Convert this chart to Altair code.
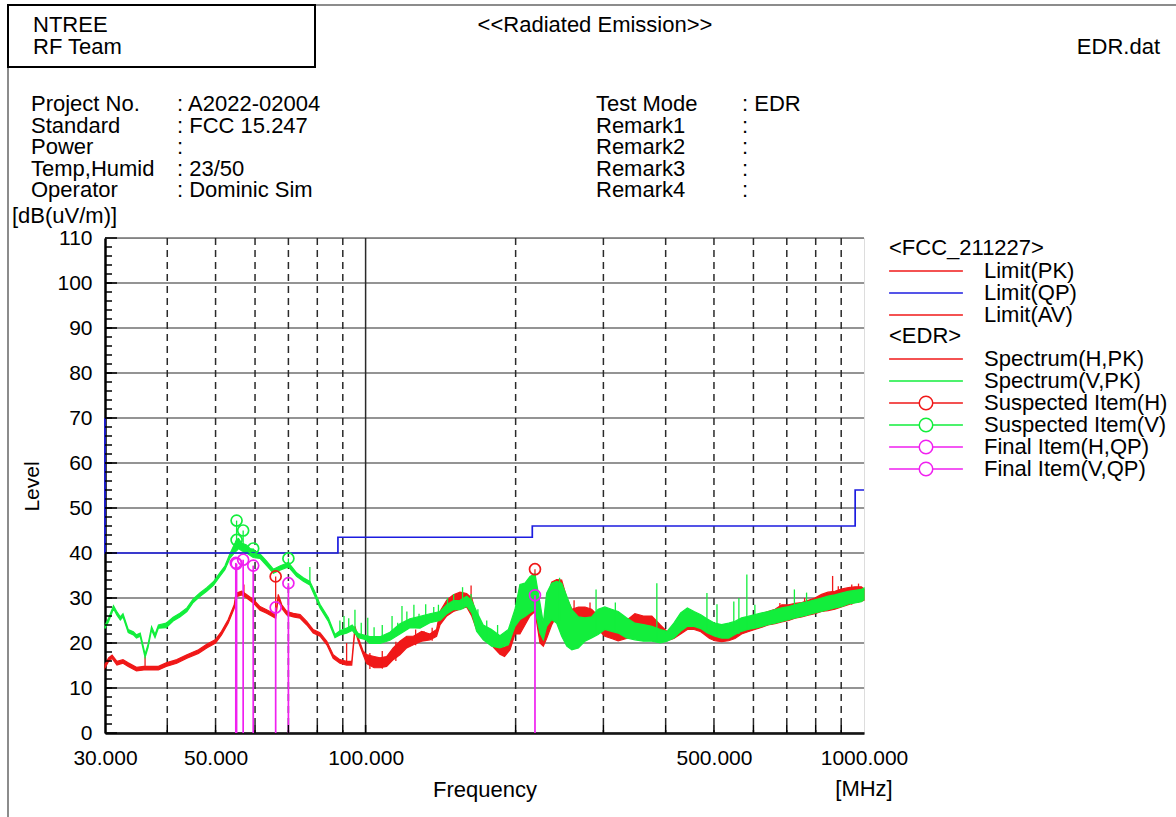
import altair as alt
import pandas as pd

FONT = "Liberation Sans"
RED = "#f01818"
GREEN = "#12ee3c"
BLUE = "#1c1ce0"
MAGENTA = "#f020f0"
GRID = "#2a2a2a"

W, H = 759, 495

# ---------------- data ----------------
# Spectrum(V,PK) (green): frequency [MHz], lower / upper envelope [dB(uV/m)]
g_f = [30.0, 30.5, 31.2, 31.7, 32.2, 32.6, 33.4, 34.2, 34.7, 35.3, 36.1, 36.6, 37.2, 37.8, 38.4,
       39.8, 41.1, 42.4, 43.8, 45.1, 46.5, 48.0, 49.5, 51.0, 52.2, 53.4, 54.7, 55.1, 55.6, 56.4,
       57.7, 58.6, 59.5, 61.4, 63.3, 65.3, 67.3, 70.0, 72.7, 75.0, 77.3, 79.2, 81.0, 84.2, 86.8,
       88.8, 91.6, 94.0, 96.7, 99.7, 102, 106.9, 111.9, 117.2, 122.7, 128.6, 134.6, 141, 145.5, 150,
       154.7, 159.5, 163.3, 167, 172.2, 179, 186, 193.4, 199.4, 204, 208.8, 213.7, 218.7, 223.8, 227.3,
       230.8, 236.2, 241.8, 247.4, 253.3, 259.3, 267.3, 275.6, 284.1, 292.8, 302, 311.5, 321.2, 333.8, 347,
       360.8, 375.2, 390.3, 402.7, 415.4, 428.6, 442.2, 456.2, 470.6, 484, 502, 518, 535, 551, 568,
       585, 604, 624, 642, 663, 684, 706, 727, 750, 773, 797, 822, 847, 874, 901,
       930, 959, 988, 1000]
g_lo = [23.2, 24.8, 27.6, 26.2, 25.1, 25.8, 22.3, 21.8, 21.1, 21.5, 16.8, 19.0, 22.9, 21.2, 23.3,
        23.4, 24.9, 25.8, 27.0, 29.0, 30.3, 31.5, 32.8, 34.8, 36.3, 38.8, 40.2, 40.5, 41.0, 40.5,
        40.0, 39.5, 39.0, 38.8, 37.2, 35.5, 36.2, 36.9, 34.8, 33.7, 32.9, 30.3, 27.8, 24.8, 21.2,
        21.8, 22.2, 22.8, 21.2, 20.8, 19.9, 19.9, 20.6, 22.0, 23.4, 23.3, 24.5, 25.0, 26.5, 27.4,
        27.4, 28.2, 26.7, 22.6, 20.7, 19.3, 18.9, 19.6, 23.7, 25.2, 25.9, 26.7, 27.4, 22.2, 20.7,
        23.7, 25.2, 24.4, 21.5, 19.3, 18.5, 18.9, 20.4, 21.1, 21.9, 23.0, 22.6, 22.2, 21.1, 20.7,
        20.4, 20.4, 20.0, 20.4, 21.1, 22.6, 23.7, 23.7, 23.2, 22.3, 21.5, 21.1, 21.1, 21.9, 22.6,
        23.0, 23.3, 23.7, 24.1, 24.4, 24.8, 25.2, 25.6, 25.9, 26.3, 26.7, 27.0, 27.4, 27.8, 28.1,
        28.7, 28.9, 29.2, 29.6]
g_hi = [23.9, 25.5, 28.3, 26.9, 25.8, 26.5, 23.0, 22.5, 21.8, 22.2, 17.5, 19.7, 23.6, 21.9, 24.0,
        24.4, 25.7, 26.6, 27.8, 29.8, 31.1, 32.3, 33.6, 35.6, 37.1, 39.8, 42.2, 43.0, 43.2, 42.2,
        41.8, 41.0, 40.8, 39.8, 38.2, 36.4, 37.1, 37.9, 35.6, 34.5, 33.7, 31.2, 28.6, 25.6, 21.9,
        22.7, 23.3, 24.0, 22.1, 21.7, 21.4, 21.4, 22.4, 24.3, 25.4, 25.9, 26.5, 27.0, 28.5, 29.4,
        29.5, 30.4, 29.4, 27.0, 24.0, 23.0, 21.6, 23.0, 27.5, 33.0, 33.3, 34.8, 35.4, 28.9, 24.4,
        31.1, 33.3, 33.7, 33.3, 30.4, 27.4, 25.8, 25.6, 25.8, 27.5, 28.0, 27.5, 27.0, 25.6, 24.4,
        24.1, 23.7, 23.0, 22.6, 24.4, 26.7, 27.8, 27.0, 26.3, 25.4, 24.4, 24.1, 24.4, 24.8, 25.6,
        25.9, 26.3, 26.7, 27.0, 27.4, 27.8, 28.1, 28.5, 28.9, 29.2, 29.6, 30.0, 30.4, 30.7, 31.1,
        31.5, 31.7, 31.9, 32.2]

# Spectrum(H,PK) (red)
r_f = [30.0, 30.5, 31.0, 31.7, 32.6, 33.4, 34.7, 35.9, 36.3, 38.4, 39.8, 41.8, 43.8, 46.2, 48.0,
       50.0, 51.4, 53.0, 54.5, 54.9, 55.1, 56.4, 57.7, 59.5, 61.4, 63.3, 65.3, 66.0, 66.8, 67.9,
       69.5, 71.6, 73.9, 76.2, 78.5, 81.0, 83.6, 86.1, 88.8, 91.6, 93.8, 95.2, 96.7, 98.9, 100.5,
       104, 106.9, 110.2, 113.6, 117.2, 120.9, 124.7, 129.6, 134.6, 138.8, 141, 145.5, 150, 154.7, 159.5,
       163.3, 167, 172.2, 179, 186, 190, 194.9, 199.4, 204, 208.8, 213.7, 218.7, 223.8, 227.3, 230.8,
       236.2, 241.8, 247.4, 253.3, 259.3, 267.3, 275.6, 284.1, 292.8, 302, 311.5, 321.2, 333.8, 347, 360.8,
       375.2, 390.3, 402.7, 415.4, 428.6, 442.2, 456.2, 470.6, 490, 502, 518, 535, 551, 568, 585,
       604, 624, 642, 663, 684, 706, 727, 750, 773, 797, 822, 847, 874, 901, 930,
       959, 988, 1000]
r_lo = [14.5, 15.9, 16.6, 15.1, 15.5, 14.8, 13.8, 14.0, 14.0, 14.0, 14.8, 15.5, 16.6, 17.7, 18.9,
        20.0, 21.8, 24.4, 27.7, 30.0, 30.3, 30.7, 30.0, 28.9, 27.3, 26.6, 25.8, 25.5, 30.0, 27.7,
        26.2, 25.8, 25.5, 24.0, 22.2, 21.5, 19.6, 16.6, 15.5, 15.1, 15.1, 22.9, 20.3, 17.4, 15.4,
        14.5, 14.5, 14.8, 16.3, 17.4, 18.9, 19.6, 20.4, 20.7, 21.5, 24.0, 26.0, 27.0, 27.5, 28.0,
        26.0, 23.0, 21.0, 19.5, 17.5, 17.0, 18.5, 22.0, 22.0, 24.0, 26.0, 27.0, 20.0, 19.3, 21.0,
        24.0, 26.0, 25.0, 24.0, 23.5, 23.0, 24.0, 24.0, 23.0, 21.5, 21.0, 20.5, 21.0, 21.5, 22.0,
        21.0, 20.5, 20.5, 21.0, 22.0, 23.0, 23.0, 22.5, 21.0, 20.5, 20.3, 20.5, 21.0, 22.0, 22.5,
        23.0, 23.5, 24.0, 24.3, 24.7, 25.0, 25.5, 25.8, 26.2, 26.5, 27.0, 27.2, 27.5, 28.0, 28.5,
        29.0, 29.3, 29.5]
r_hi = [15.2, 16.7, 17.3, 15.9, 16.3, 15.6, 14.6, 14.8, 14.8, 14.8, 15.6, 16.3, 17.4, 18.5, 19.7,
        20.8, 22.6, 25.2, 28.5, 30.8, 31.1, 31.5, 30.8, 29.7, 28.1, 27.4, 26.6, 26.3, 30.8, 28.5,
        27.0, 26.6, 26.3, 24.8, 23.0, 22.3, 20.4, 17.4, 16.3, 15.9, 15.9, 23.7, 21.1, 18.2, 17.4,
        17.0, 16.7, 17.0, 18.9, 20.4, 21.5, 21.5, 22.6, 22.0, 23.0, 27.0, 29.5, 30.7, 31.3, 31.0,
        30.0, 26.0, 23.5, 22.0, 19.5, 19.0, 20.0, 25.6, 30.0, 32.0, 33.0, 34.0, 27.0, 23.0, 29.0,
        33.5, 34.1, 34.0, 30.0, 27.5, 28.0, 28.0, 27.5, 26.0, 24.0, 24.5, 24.0, 25.0, 26.5, 26.0,
        26.0, 24.0, 22.5, 23.0, 25.0, 26.0, 26.0, 25.5, 24.0, 23.5, 23.5, 24.0, 24.5, 25.0, 25.5,
        26.0, 26.5, 27.0, 27.5, 28.5, 28.5, 28.8, 29.0, 29.5, 30.0, 30.8, 31.3, 31.5, 32.0, 32.3,
        32.5, 32.5, 32.0]

# narrow spikes (frequency, foot, top)
gs_f = [55.1, 56.8, 59.5, 70.0, 77.3, 88.8, 90.5, 92.5, 95.2, 98, 101, 104, 108, 113, 116,
        118.3, 121, 125, 128, 132, 137, 140, 146, 150.2, 156.5, 162.8, 168, 175, 184, 245,
        290, 317, 384, 484, 507, 548, 561, 582, 604, 725, 767]
gs_lo = [42.0, 41.0, 39.5, 37.0, 33.0, 22.0, 22.5, 22.5, 23.0, 21.0, 20.5, 20.5, 20.5, 21.0, 22.0,
         22.5, 23.0, 23.5, 23.5, 24.0, 25.0, 25.0, 26.5, 27.5, 27.5, 27.0, 23.0, 21.0, 19.5, 25.0,
         22.0, 22.5, 20.5, 22.5, 21.5, 22.0, 22.0, 23.0, 23.5, 25.5, 26.0]
gs_hi = [47.2, 45.0, 41.0, 38.8, 36.9, 25.0, 26.0, 25.5, 27.4, 24.5, 25.6, 23.5, 24.0, 26.0, 24.5,
         28.2, 27.0, 28.5, 26.5, 28.6, 28.0, 28.5, 30.0, 30.9, 32.4, 30.9, 27.5, 25.0, 24.0, 34.5,
         31.9, 29.0, 33.3, 31.1, 28.6, 29.2, 30.0, 35.2, 28.5, 31.9, 31.2]
rs_f = [36.1, 54.9, 57.0, 66.0, 91.6, 102, 108, 115, 126, 131, 136, 162.8, 218.7, 262, 282,
        678, 760, 829, 865, 888, 945, 975]
rs_lo = [14.4, 30.0, 30.5, 26.0, 15.5, 14.2, 14.3, 16.0, 19.5, 20.5, 20.5, 27.0, 27.0, 24.0, 24.0,
         24.5, 26.0, 27.0, 27.5, 28.0, 28.5, 29.0]
rs_hi = [17.0, 33.5, 33.0, 34.8, 20.0, 17.8, 18.2, 20.3, 23.0, 22.6, 23.4, 32.8, 36.4, 29.5, 29.0,
         28.9, 30.0, 30.8, 34.9, 32.6, 33.0, 33.2]

# Limit(QP) (blue)
lim_f = [30, 30, 88, 88, 216, 216, 960, 960, 1000]
lim_v = [70, 40, 40, 43.5, 43.5, 46, 46, 54, 54]

# items
susp_h_f = [66.0, 218.7]
susp_h_v = [34.8, 36.4]
susp_v_f = [55.1, 55.1, 56.8, 59.5, 70.0]
susp_v_v = [47.2, 42.9, 45.0, 41.0, 38.8]
final_f = [54.9, 55.1, 56.8, 59.5, 66.0, 70.0, 218.7]
final_v = [37.8, 37.6, 38.5, 37.2, 27.9, 33.3, 30.6]

# axes / grid
y_ticks = list(range(0, 111, 10))
y_minor = list(range(2, 110, 2))
x_labels = [30, 50, 100, 500, 1000]
x_dash = [40, 50, 60, 70, 80, 90, 200, 300, 400, 500, 600, 700, 800, 900]
x_solid = [100]

# legend entries
fcc_names = ["Limit(PK)", "Limit(QP)", "Limit(AV)"]
fcc_colors = [RED, BLUE, RED]
edr_names = ["Spectrum(H,PK)", "Spectrum(V,PK)", "Suspected Item(H)", "Suspected Item(V)",
             "Final Item(H,QP)", "Final Item(V,QP)"]
edr_colors = [RED, GREEN, RED, GREEN, MAGENTA, MAGENTA]

# header
info_left = ["Project No.", "Standard", "Power", "Temp,Humid", "Operator"]
info_left_val = [": A2022-02004", ": FCC 15.247", ":", ": 23/50", ": Dominic Sim"]
info_right = ["Test Mode", "Remark1", "Remark2", "Remark3", "Remark4"]
info_right_val = [": EDR", ":", ":", ":", ":"]

assert len(g_f) == len(g_lo) == len(g_hi), (len(g_f), len(g_lo), len(g_hi))
assert len(r_f) == len(r_lo) == len(r_hi), (len(r_f), len(r_lo), len(r_hi))
assert len(gs_f) == len(gs_lo) == len(gs_hi)
assert len(rs_f) == len(rs_lo) == len(rs_hi)

# ---------------- chart ----------------
xs = alt.Scale(type="log", domain=[30, 1000], nice=False)
ys = alt.Scale(domain=[0, 110], nice=False)

x_axis = alt.Axis(values=x_labels, labelExpr="format(datum.value, '.3f')", ticks=False, grid=False,
                  labelFontSize=21, labelPadding=14, labelColor="black", labelFont=FONT,
                  labelOverlap=False, labelFlush=False, domainColor="black", domainWidth=2.5,
                  title="Frequency", titleFont=FONT, titleFontSize=22, titleFontWeight="normal",
                  titleColor="black", titleY=56, titleBaseline="middle")
y_axis = alt.Axis(values=y_ticks, ticks=False, grid=False, labelFontSize=21, labelPadding=13,
                  labelColor="black", labelFont=FONT, domainColor="black", domainWidth=2.5,
                  title="Level", titleFont=FONT, titleFontSize=21, titleFontWeight="normal",
                  titleColor="black", titleAngle=270, titleX=-73, titleY=248,
                  titleAlign="center", titleBaseline="middle")


def X(field):
    return alt.X(field, type="quantitative", scale=xs, axis=x_axis)


def Y(field):
    return alt.Y(field, type="quantitative", scale=ys, axis=y_axis)


one = pd.DataFrame({"a": [0]})

hgrid = alt.Chart(pd.DataFrame({"v": y_ticks})).mark_rule(color=GRID, strokeWidth=1.2).encode(y=Y("v"))
vdash = alt.Chart(pd.DataFrame({"f": x_dash})).mark_rule(color=GRID, strokeWidth=1.5, strokeDash=[7, 5]).encode(x=X("f"))
vsolid = alt.Chart(pd.DataFrame({"f": x_solid})).mark_rule(color=GRID, strokeWidth=1.5).encode(x=X("f"))
ytick_minor = alt.Chart(pd.DataFrame({"v": y_minor})).mark_rule(color="black", strokeWidth=1.5).encode(
    y=Y("v"), x=alt.value(0), x2=alt.value(7))
ytick_major = alt.Chart(pd.DataFrame({"v": y_ticks})).mark_rule(color="black", strokeWidth=1.5).encode(
    y=Y("v"), x=alt.value(0), x2=alt.value(12))
xtick = alt.Chart(pd.DataFrame({"f": x_dash + x_solid})).mark_rule(color="black", strokeWidth=1.5).encode(
    x=X("f"), y=alt.value(H), y2=alt.value(H - 8))

red_df = pd.DataFrame({"f": r_f, "lo": r_lo, "hi": r_hi})
green_df = pd.DataFrame({"f": g_f, "lo": g_lo, "hi": g_hi})
red_area = alt.Chart(red_df).mark_area(color=RED, stroke=RED, strokeWidth=1.2, opacity=1).encode(
    x=X("f"), y=Y("hi"), y2="lo")
green_area = alt.Chart(green_df).mark_area(color=GREEN, stroke=GREEN, strokeWidth=1.2, opacity=1).encode(
    x=X("f"), y=Y("hi"), y2="lo")
red_sp = alt.Chart(pd.DataFrame({"f": rs_f, "lo": rs_lo, "hi": rs_hi})).mark_rule(color=RED, strokeWidth=1.3).encode(
    x=X("f"), y=Y("lo"), y2="hi")
green_sp = alt.Chart(pd.DataFrame({"f": gs_f, "lo": gs_lo, "hi": gs_hi})).mark_rule(color=GREEN, strokeWidth=1.3).encode(
    x=X("f"), y=Y("lo"), y2="hi")

limit = alt.Chart(pd.DataFrame({"f": lim_f, "v": lim_v, "i": list(range(len(lim_f)))})).mark_line(
    color=BLUE, strokeWidth=1.7).encode(x=X("f"), y=Y("v"), order="i:Q")

final_df = pd.DataFrame({"f": final_f, "v": final_v})
final_rule = alt.Chart(final_df).mark_rule(color=MAGENTA, strokeWidth=1.7).encode(x=X("f"), y=Y("v"), y2=alt.datum(0))
final_pt = alt.Chart(final_df).mark_point(shape="circle", filled=False, size=120, strokeWidth=1.7, color=MAGENTA, opacity=1).encode(
    x=X("f"), y=Y("v"))
susp_h = alt.Chart(pd.DataFrame({"f": susp_h_f, "v": susp_h_v})).mark_point(
    shape="circle", filled=False, size=120, strokeWidth=1.7, color=RED, opacity=1).encode(x=X("f"), y=Y("v"))
susp_v = alt.Chart(pd.DataFrame({"f": susp_v_f, "v": susp_v_v})).mark_point(
    shape="circle", filled=False, size=120, strokeWidth=1.7, color=GREEN, opacity=1).encode(x=X("f"), y=Y("v"))

# legend-only layers (rows without coordinates, so nothing is drawn in the plot)
LINE = "M-4.1,0H4.1"
LINE_O = "M-4.1,0H-0.75M0.75,0H4.1M-0.75,0A0.75,0.75,0,1,1,0.75,0A0.75,0.75,0,1,1,-0.75,0"
edr_shapes = [LINE, LINE, LINE_O, LINE_O, LINE_O, LINE_O]

fcc_leg = alt.Chart(pd.DataFrame({"name": fcc_names, "f": [None] * 3, "v": [None] * 3})).mark_point(filled=False, opacity=1).encode(
    x=X("f"), y=Y("v"),
    stroke=alt.Stroke("name:N", scale=alt.Scale(domain=fcc_names, range=fcc_colors),
                      legend=alt.Legend(title="<FCC_211227>", orient="none", legendX=784, legendY=0,
                                        symbolType=LINE)))
edr_legend = alt.Legend(title="<EDR>", orient="none", legendX=784, legendY=88)
edr_leg = alt.Chart(pd.DataFrame({"name": edr_names, "f": [None] * 6, "v": [None] * 6})).mark_point(filled=False, opacity=1).encode(
    x=X("f"), y=Y("v"),
    color=alt.Color("name:N", scale=alt.Scale(domain=edr_names, range=edr_colors), legend=edr_legend),
    shape=alt.Shape("name:N", scale=alt.Scale(domain=edr_names, range=edr_shapes), legend=edr_legend))

# header decorations and texts
frame_top = alt.Chart(one).mark_rule(color="#666666", strokeWidth=1.5).encode(
    x=alt.value(-97), x2=alt.value(1071), y=alt.value(-233))
frame_left = alt.Chart(one).mark_rule(color="#666666", strokeWidth=1.5).encode(
    x=alt.value(-97), y=alt.value(-233), y2=alt.value(579))
box = alt.Chart(one).mark_rect(fill="white", stroke="black", strokeWidth=2).encode(
    x=alt.value(-97), x2=alt.value(210), y=alt.value(-233), y2=alt.value(-171))


def txt(text, x, y, align="left", size=22):
    return alt.Chart(one).mark_text(text=text, align=align, baseline="middle", fontSize=size,
                                    font=FONT, color="black").encode(x=alt.value(x), y=alt.value(y))


texts = [txt("NTREE", -72, -213), txt("RF Team", -72, -191),
         txt("<<Radiated Emission>>", 490, -213, "center"),
         txt("EDR.dat", 1055, -191, "right"),
         txt("[dB(uV/m)]", -93, -22),
         txt("[MHz]", 759, 551, "center")]
for i in range(5):
    yy = -134 + i * 21.5
    texts.append(txt(info_left[i], -74, yy))
    texts.append(txt(info_left_val[i], 72, yy))
    texts.append(txt(info_right[i], 491, yy))
    texts.append(txt(info_right_val[i], 637, yy))

chart = alt.layer(
    hgrid, vdash, vsolid, red_area, red_sp, green_area, green_sp, limit,
    final_rule, final_pt, susp_h, susp_v, ytick_minor, ytick_major, xtick,
    fcc_leg, edr_leg, frame_top, frame_left, box, *texts
).properties(
    width=W, height=H, autosize="none",
    padding={"left": 105, "top": 238, "right": 312, "bottom": 84},
    background="white"
).configure_view(stroke=GRID, strokeWidth=1.5).configure(font=FONT).configure_legend(
    titleFont=FONT, titleFontSize=22, titleFontWeight="normal", titleColor="black",
    labelFont=FONT, labelFontSize=22, labelColor="black", padding=0, rowPadding=0,
    titlePadding=0, symbolStrokeWidth=1.5, symbolSize=324, symbolOffset=26, labelOffset=47,
    labelLimit=400, titleLimit=400)

chart.save("out.html", embed_options={"renderer": "svg", "actions": False})
